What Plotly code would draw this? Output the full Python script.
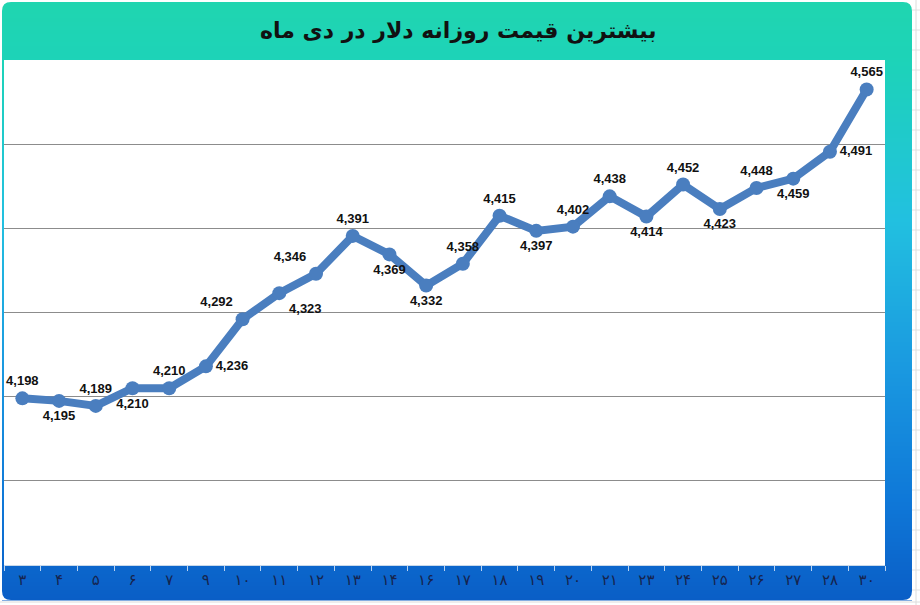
import plotly.graph_objects as go

# ---- data ----
days = ["۳", "۴", "۵", "۶", "۷", "۹", "۱۰", "۱۱", "۱۲", "۱۳", "۱۴", "۱۶",
        "۱۷", "۱۸", "۱۹", "۲۰", "۲۱", "۲۳", "۲۴", "۲۵", "۲۶", "۲۷", "۲۸", "۳۰"]
price = [4198, 4195, 4189, 4210, 4210, 4236, 4292, 4323, 4346, 4391, 4369, 4332,
         4358, 4415, 4397, 4402, 4438, 4414, 4452, 4423, 4448, 4459, 4491, 4565]
label_pos = ["top center", "bottom center", "top center", "bottom center", "top center",
             "middle right", "top left", "bottom right", "top left", "top center",
             "bottom center", "bottom center", "top center", "top center", "bottom center",
             "top center", "top center", "bottom center", "top center", "bottom center",
             "top center", "bottom center", "middle right", "top center"]
title_text = "بیشترین قیمت روزانه دلار در دی ماه"
y_grid = [4100, 4200, 4300, 4400, 4500]

# ---- layout geometry (pixels) ----
W, H = 920, 605
L, R, T, B = 4, 885, 60, 565
pw, ph = R - L, B - T


def px(x):
    return (x - L) / pw


def py(y):
    return (B - y) / ph


def hex2rgb(h):
    h = h.lstrip("#")
    return tuple(int(h[i:i + 2], 16) for i in (0, 2, 4))


stops = [(2, "#20d5b0"), (60, "#1dd3b8"), (220, "#22c0e0"), (370, "#1a98e0"),
         (500, "#0f78d8"), (600, "#0a5ec6")]


def color_at(y):
    for (y0, c0), (y1, c1) in zip(stops[:-1], stops[1:]):
        if y0 <= y <= y1:
            t = (y - y0) / (y1 - y0)
            a, b = hex2rgb(c0), hex2rgb(c1)
            return "rgb(%d,%d,%d)" % tuple(round(a[i] + (b[i] - a[i]) * t) for i in range(3))
    return stops[-1][1]


shapes = []
# Excel-like sheet lines outside the chart
for yy in range(10, 605, 20):
    shapes.append(dict(type="line", xref="paper", yref="paper", x0=px(912), x1=px(920),
                       y0=py(yy), y1=py(yy), line=dict(color="#e2e2e2", width=1), layer="below"))
shapes.append(dict(type="line", xref="paper", yref="paper", x0=px(916), x1=px(916),
                   y0=py(0), y1=py(605), line=dict(color="#dcdcdc", width=1), layer="below"))
shapes.append(dict(type="line", xref="paper", yref="paper", x0=px(0), x1=px(920),
                   y0=py(602), y1=py(602), line=dict(color="#dcdcdc", width=1), layer="below"))

# gradient chart area
step = 4
y = 2
while y < 600:
    y2 = min(y + step, 600)
    shapes.append(dict(type="rect", xref="paper", yref="paper", x0=px(2), x1=px(912),
                       y0=py(y2 + 0.5), y1=py(y), fillcolor=color_at((y + y2) / 2),
                       line=dict(width=0), layer="below"))
    y = y2

# rounded corner masks
r = 9
corners = [((2, 2), (2 + r, 2), (2, 2 + r)), ((912, 2), (912 - r, 2), (912, 2 + r)),
           ((2, 600), (2 + r, 600), (2, 600 - r)), ((912, 600), (912 - r, 600), (912, 600 - r))]
for (cx, cy), (ax, ay), (bx, by) in corners:
    path = "M %f,%f L %f,%f Q %f,%f %f,%f Z" % (px(cx), py(cy), px(ax), py(ay),
                                                px(cx), py(cy), px(bx), py(by))
    shapes.append(dict(type="path", xref="paper", yref="paper", path=path,
                       fillcolor="white", line=dict(width=0), layer="below"))

# white plot area
shapes.append(dict(type="rect", xref="paper", yref="paper", x0=0, x1=1, y0=0, y1=1,
                   fillcolor="white", line=dict(width=0), layer="below"))

fig = go.Figure()
fig.add_trace(go.Scatter(
    x=days, y=price, mode="lines+markers+text",
    line=dict(color="#4a7ebf", width=8),
    marker=dict(color="#4a7ebf", size=14),
    text=["{:,}".format(v) for v in price],
    textposition=label_pos,
    textfont=dict(family="Liberation Sans", size=13, color="#111111", weight="bold"),
    cliponaxis=False, hoverinfo="skip",
))

fig.update_layout(
    width=W, height=H,
    margin=dict(l=L, r=W - R, t=T, b=H - B),
    paper_bgcolor="white", plot_bgcolor="rgba(0,0,0,0)",
    showlegend=False,
    shapes=shapes,
    annotations=[dict(text="<b>" + title_text + "</b>", xref="paper", yref="paper",
                      x=px(458), y=py(31), xanchor="center", yanchor="middle",
                      showarrow=False,
                      font=dict(family="DejaVu Sans", size=22, color="#111111"))],
    xaxis=dict(type="category", range=[-0.5, len(days) - 0.5], showgrid=False,
               ticks="outside", tickson="boundaries", ticklen=5,
               tickcolor="rgba(230,240,250,0.8)", showline=True, linecolor="#c9d9ea",
               linewidth=1, ticklabelstandoff=1,
               tickfont=dict(family="DejaVu Sans", size=15, color="#16244e")),
    yaxis=dict(range=[4000, 4600], tickmode="array", tickvals=y_grid,
               showticklabels=False, showgrid=True, gridcolor="#8c8c8c", gridwidth=1,
               zeroline=False, showline=False),
)

fig.write_html("out.html", config={"displayModeBar": False},
               post_script="document.body.style.margin='0';document.body.style.overflow='hidden';")
